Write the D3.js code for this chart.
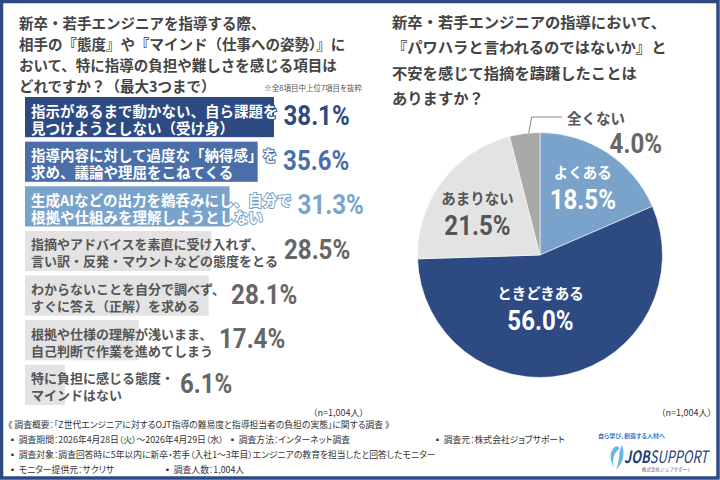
<!DOCTYPE html>
<html>
<head>
<meta charset="utf-8">
<script src="https://cdn.jsdelivr.net/npm/d3@7"></script>
<style>
  html, body { margin: 0; padding: 0; background: #fff; }
  svg text { font-family: "Noto Sans CJK JP", "Noto Sans", sans-serif; }
  .palt { font-feature-settings: "palt"; }
  .num { font-family: Roboto, "Liberation Sans", sans-serif; font-weight: 700; }
</style>
</head>
<body>
<div id="chart"></div>
<script>
// left: top 7 burden items
const barLabels = [
  ["指示があるまで動かない、自ら課題を", "見つけようとしない（受け身）"],
  ["指導内容に対して過度な「納得感」を", "求め、議論や理屈をこねてくる"],
  ["生成AIなどの出力を鵜呑みにし、自分で", "根拠や仕組みを理解しようとしない"],
  ["指摘やアドバイスを素直に受け入れず、", "言い訳・反発・マウントなどの態度をとる"],
  ["わからないことを自分で調べず、", "すぐに答え（正解）を求める"],
  ["根拠や仕様の理解が浅いまま、", "自己判断で作業を進めてしまう"],
  ["特に負担に感じる態度・", "マインドはない"]
];
const barValues = [38.1, 35.6, 31.3, 28.5, 28.1, 17.4, 6.1];

// right: hesitation pie
const pieLabels = ["よくある", "ときどきある", "あまりない", "全くない"];
const pieValues = [18.5, 56.0, 21.5, 4.0];

const leftTitle = [
  "新卒・若手エンジニアを指導する際、",
  "相手の『態度』や『マインド（仕事への姿勢）』に",
  "おいて、特に指導の負担や難しさを感じる項目は",
  "どれですか？（最大3つまで）"
];
const rightTitle = [
  "新卒・若手エンジニアの指導において、",
  "『パワハラと言われるのではないか』と",
  "不安を感じて指摘を躊躇したことは",
  "ありますか？"
];
const footer = [
  [["《 調査概要：「Z世代エンジニアに対するOJT指導の難易度と指導担当者の負担の実態」に関する調査 》", 8]],
  [["▪ 調査期間：2026年4月28日（火）～2026年4月29日（水）", 8], ["▪ 調査方法：インターネット調査", 228], ["▪ 調査元：株式会社ジョブサポート", 433]],
  [["▪ 調査対象：調査回答時に5年以内に新卒・若手（入社1～3年目）エンジニアの教育を担当したと回答したモニター", 8]],
  [["▪ モニター提供元：サクリサ", 8], ["▪ 調査人数：1,004人", 163]]
];

const W = 720, H = 480;
const navy = "#2d4a82";
const barFill = ["#2d4a82", "#4a6fa8", "#7aa3cb", "#e3e3e3", "#e3e3e3", "#e3e3e3", "#e3e3e3"];
const valFill = ["#2d4a82", "#4a6fa8", "#7aa3cb", "#666", "#666", "#666", "#666"];
const labFill = ["#fff", "#fff", "#fff", "#555", "#555", "#555", "#555"];
const labSize = [14.5, 14.5, 14.5, 13, 13, 13, 13];

const svg = d3.select("#chart").append("svg")
  .attr("width", W).attr("height", H);

svg.append("rect").attr("width", W).attr("height", H).attr("fill", "#fff");

// condensed figures: squeeze a bold face horizontally
function num(parent, x, y, anchor, size, fill, str) {
  parent.append("g").attr("transform", `translate(${x},${y}) scale(0.86,1)`)
    .append("text").attr("class", "num")
    .attr("text-anchor", anchor).attr("font-size", size).attr("fill", fill)
    .text(str);
}

// titles
function title(lines, x, y0, dy, size) {
  svg.append("g").selectAll("text").data(lines).enter().append("text")
    .attr("x", x).attr("y", (d, i) => y0 + i * dy)
    .attr("dominant-baseline", "central")
    .attr("font-size", size).attr("font-weight", 700).attr("fill", "#444")
    .text(d => d);
}
title(leftTitle, 19, 22, 21.3, 14.5);
title(rightTitle, 392, 21, 25.3, 15.3);

svg.append("text").attr("x", 362).attr("y", 87).attr("text-anchor", "end")
  .attr("class", "palt")
  .attr("dominant-baseline", "central").attr("font-size", 7.5).attr("fill", "#555")
  .text("※全8項目中上位7項目を抜粋");

// bars
const x = d3.scaleLinear().domain([0, 38.1]).range([25, 274]);
const y = d3.scaleBand().domain(d3.range(barValues.length)).range([97, 405]).paddingInner(0.1);

const rows = svg.append("g").selectAll("g").data(barValues).enter().append("g")
  .attr("transform", (d, i) => `translate(0,${y(i)})`);

rows.append("rect")
  .attr("x", x(0)).attr("width", d => x(d) - x(0))
  .attr("height", y.bandwidth())
  .attr("fill", (d, i) => barFill[i]);

rows.each(function (d, i) {
  const g = d3.select(this);
  const t = g.selectAll("text.lab").data(barLabels[i]).enter().append("text")
    .attr("class", "lab")
    .attr("x", 31).attr("y", (s, j) => 13 + j * 17)
    .attr("dominant-baseline", "central")
    .attr("font-size", labSize[i]).attr("font-weight", 700)
    .attr("fill", labFill[i])
    .attr("stroke", i < 3 ? barFill[i] : "none").attr("stroke-width", 2)
    .attr("paint-order", "stroke")
    .text(s => s);
  let maxW = 0;
  t.each(function () { maxW = Math.max(maxW, this.getComputedTextLength()); });
  num(g, 31 + maxW + 6, 28, "start", 28, valFill[i], d.toFixed(1) + "%");
});

// pie
const cx = 540, cy = 255, R = 122.5;
const pie = d3.pie().sort(null).value(d => d)(pieValues);
const arc = d3.arc().innerRadius(0).outerRadius(R);
const pieFill = ["#7aa3cb", "#2d4a82", "#e3e3e3", "#a9a9a9"];
const pg = svg.append("g").attr("transform", `translate(${cx},${cy})`);
pg.selectAll("path").data(pie).enter().append("path")
  .attr("d", arc).attr("fill", (d, i) => pieFill[i])
  .attr("stroke", "#fff").attr("stroke-width", 0.6);

const labR = [78, 57, 72];
const labDx = [0, -12, -5];
const labDy = [0, 0, 4];
const labColor = ["#fff", "#fff", "#555"];
pie.slice(0, 3).forEach((d, i) => {
  const a = (d.startAngle + d.endAngle) / 2;
  const lx = Math.sin(a) * labR[i] + labDx[i], ly = -Math.cos(a) * labR[i] + labDy[i];
  pg.append("text").attr("x", lx).attr("y", ly - 18)
    .attr("text-anchor", "middle").attr("dominant-baseline", "central")
    .attr("font-size", 14.5).attr("font-weight", 700).attr("fill", labColor[i])
    .text(pieLabels[i]);
  num(pg, lx, ly + 19, "middle", 28, labColor[i], pieValues[i].toFixed(1) + "%");
});

// leader for the small slice
const sm = pie[3];
const sa = (sm.startAngle + sm.endAngle) / 2;
const p0 = [Math.sin(sa) * R, -Math.cos(sa) * R];
pg.append("path")
  .attr("d", d3.line()([[p0[0] + 4, p0[1]], [p0[0] + 7, -138], [22, -138]]))
  .attr("fill", "none").attr("stroke", "#888").attr("stroke-width", 1);
pg.append("text").attr("x", 27).attr("y", -138)
  .attr("dominant-baseline", "central")
  .attr("font-size", 14.5).attr("font-weight", 700).attr("fill", "#555")
  .text(pieLabels[3]);
num(pg, 122, -102, "end", 28, "#666", pieValues[3].toFixed(1) + "%");

// sample sizes
[364, 712].forEach(xx => {
  svg.append("text").attr("class", "palt").attr("x", xx).attr("y", 412).attr("text-anchor", "end")
    .attr("dominant-baseline", "central").attr("font-size", 9).attr("fill", "#333")
    .text("（n=1,004人）");
});

// footer
footer.forEach((row, r) => {
  row.forEach(([s, fx]) => {
    svg.append("text").attr("class", "palt").attr("x", fx).attr("y", 424 + r * 15.3)
      .attr("dominant-baseline", "central").attr("font-size", 8.8).attr("fill", "#333")
      .text(s);
  });
});

// logo
const lg = svg.append("g").attr("transform", "translate(598,430)");
lg.append("text").attr("class", "palt").attr("x", 0).attr("y", 8).attr("font-size", 6).attr("font-weight", 700)
  .attr("fill", "#3a78c8").text("自ら学び、創造する人材へ");
lg.append("path")
  .attr("d", "M18,16 C10,22 12,30 16,38 C14,30 15,24 22,18 Z M24,15 C20,23 22,31 18,40 C26,32 27,23 24,15 Z")
  .attr("fill", "#6bb4e6");
lg.append("text").attr("x", 26).attr("y", 33)
  .attr("font-family", "Liberation Sans, sans-serif")
  .attr("font-size", 17).attr("font-style", "italic")
  .attr("textLength", 84).attr("lengthAdjust", "spacingAndGlyphs")
  .attr("fill", "#1f3f7a")
  .call(t => {
    t.append("tspan").attr("font-weight", 700).text("JOB");
    t.append("tspan").attr("font-weight", 400).text("SUPPORT");
  });
lg.append("text").attr("x", 44).attr("y", 41).attr("font-size", 4.5).attr("fill", "#555")
  .text("株式会社ジョブサポート");

// frame
svg.append("rect").attr("x", 1.5).attr("y", 1.5).attr("width", W - 3.5).attr("height", H - 3.5)
  .attr("fill", "none").attr("stroke", navy).attr("stroke-width", 3.5);
</script>
</body>
</html>
